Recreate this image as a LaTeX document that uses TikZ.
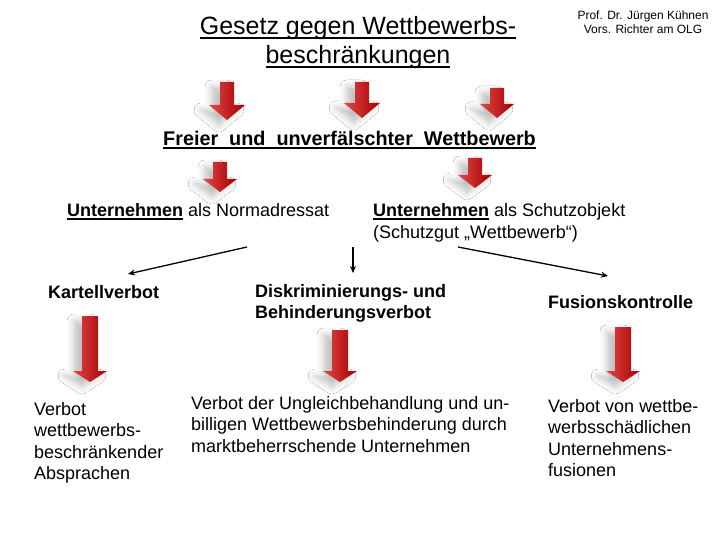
\documentclass[tikz,border=0pt]{standalone}
\usepackage{fontspec}
\setmainfont{Liberation Sans}
\usetikzlibrary{shadows.blur,arrows.meta}
\newcommand{\ulx}[1]{\setbox0=\hbox{#1}\leavevmode\rlap{\rule[-0.15em]{\wd0}{0.075em}}\box0\relax}
\definecolor{arrleft}{RGB}{225,70,70}
\definecolor{arrmid}{RGB}{212,0,0}
\definecolor{arrright}{RGB}{165,0,0}
\newcommand{\redarrow}[6]{% x, top, tip, head height, shaft half, head half
  \path[arrowfill] ({#1-#5},#2) -- ({#1+#5},#2) -- ({#1+#5},{#3-#4}) -- ({#1+#6},{#3-#4}) -- (#1,#3)
    -- ({#1-#6},{#3-#4}) -- ({#1-#5},{#3-#4}) -- cycle;}
\tikzset{
  arrowfill/.style={left color=arrleft, middle color=arrmid, right color=arrright,
    blur shadow={shadow xshift=-8pt, shadow yshift=-5pt, shadow blur radius=7pt, shadow opacity=25}},
  txt/.style={inner sep=0pt, anchor=base west, align=left},
  conn/.style={line width=1.3pt, -{Stealth[length=7pt,width=6pt]}}
}
\begin{document}
\begin{tikzpicture}[x=1pt,y=-1pt]
\useasboundingbox[fill=white] (0,0) rectangle (720,540);

\node[inner sep=0pt, anchor=base, align=center, font=\fontsize{25}{29}\selectfont] (title) at (358,64)
  {\ulx{Gesetz gegen Wettbewerbs-}\\\ulx{beschränkungen}};
\node[inner sep=0pt, anchor=base, align=center, font=\fontsize{12}{14}\selectfont] (prof) at (643,34)
  {Prof. Dr. Jürgen Kühnen\\Vors. Richter am OLG};

\redarrow{227}{82}{120}{15}{7}{18}
\redarrow{362}{82}{118}{15}{7}{18}
\redarrow{497}{88}{118}{14}{7}{17}

\node[txt, font=\bfseries\fontsize{19.8}{23}\selectfont] (frei) at (163,146)
  {\ulx{Freier\ \ und\ \ unverfälschter\ \ Wettbewerb}};

\redarrow{220}{162}{192}{13}{7}{17}
\redarrow{475}{158}{188}{13}{7}{17}

\node[txt, font=\fontsize{18}{22}\selectfont] (norm) at (67,217)
  {\ulx{\textbf{Unternehmen}} als Normadressat};
\node[txt, font=\fontsize{18}{22}\selectfont] (schutz) at (373,239)
  {\ulx{\textbf{Unternehmen}} als Schutzobjekt\\(Schutzgut „Wettbewerb“)};

\coordinate (c1) at (247,247);
\coordinate (e1) at (128,274);
\coordinate (c2) at (353,247);
\coordinate (e2) at (353,273);
\coordinate (c3) at (458,247);
\coordinate (e3) at (608,276);
\draw[conn] (c1) -- (e1);
\draw[conn] (c2) -- (e2);
\draw[conn] (c3) -- (e3);

\node[txt, font=\bfseries\fontsize{18}{21}\selectfont] (kartell) at (48,298) {Kartellverbot};
\node[txt, font=\bfseries\fontsize{18}{21}\selectfont] (diskr) at (255,318)
  {Diskriminierungs- und\\Behinderungsverbot};
\node[txt, font=\bfseries\fontsize{18}{21}\selectfont] (fusion) at (548,308) {Fusionskontrolle};

\redarrow{90}{316}{382}{11}{8}{17}
\redarrow{340}{330}{382}{11}{8}{17}
\redarrow{623}{327}{382}{11}{8}{17}

\node[txt, font=\fontsize{18}{21.5}\selectfont] (v1) at (34,479.5)
  {Verbot\\wettbewerbs-\\beschränkender\\Absprachen};
\node[txt, font=\fontsize{18}{21.5}\selectfont] (v2) at (191,452)
  {Verbot der Ungleichbehandlung und un-\\billigen Wettbewerbsbehinderung durch\\marktbeherrschende Unternehmen};
\node[txt, font=\fontsize{18}{21.5}\selectfont] (v3) at (548,476.5)
  {Verbot von wettbe-\\werbsschädlichen\\Unternehmens-\\fusionen};
\end{tikzpicture}
\end{document}
